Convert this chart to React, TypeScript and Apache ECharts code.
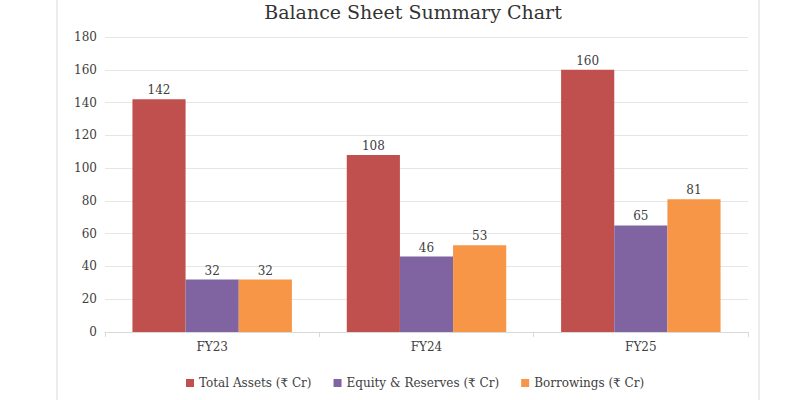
import React, { useEffect, useRef } from "react";
import * as echarts from "echarts";

const categories = ["FY23", "FY24", "FY25"];
const totalAssets = [142, 108, 160];
const equityReserves = [32, 46, 65];
const borrowings = [32, 53, 81];
const seriesNames = ["Total Assets (₹ Cr)", "Equity & Reserves (₹ Cr)", "Borrowings (₹ Cr)"];
const colors = ["#C0504D", "#8064A2", "#F79646"];
const FONT = "DejaVu Serif";

export default function App() {
  const ref = useRef<HTMLDivElement>(null);
  useEffect(() => {
    if (!ref.current) return;
    const chart = echarts.init(ref.current, undefined, { renderer: "svg" });
    const mk = (name: string, data: number[], color: string) => ({
      name,
      type: "bar",
      data,
      barGap: "0%",
      barCategoryGap: "25.6%",
      itemStyle: { color },
      label: {
        show: true,
        position: "top",
        distance: 3,
        color: "#404040",
        fontFamily: FONT,
        fontSize: 12,
      },
    });
    chart.setOption({
      animation: false,
      backgroundColor: "#ffffff",
      graphic: [
        {
          type: "rect",
          shape: { x: 57, y: -5, width: 702, height: 410 },
          style: { fill: "none", stroke: "#d9d9d9", lineWidth: 1 },
          silent: true,
        },
      ],
      title: {
        text: "Balance Sheet Summary Chart",
        left: 408,
        textAlign: "center",
        top: -3,
        textStyle: {
          fontFamily: FONT,
          fontSize: 19,
          fontWeight: "normal",
          color: "#333333",
        },
      },
      legend: {
        left: 181,
        top: 372,
        itemWidth: 8,
        itemHeight: 8,
        itemGap: 22,
        icon: "rect",
        textStyle: { fontFamily: FONT, fontSize: 12, color: "#404040" },
        data: seriesNames,
      },
      grid: { left: 105, right: 52, top: 37, bottom: 68 },
      xAxis: {
        type: "category",
        data: categories,
        axisLine: { lineStyle: { color: "#d9d9d9" } },
        axisTick: { show: true, length: 5, lineStyle: { color: "#d9d9d9" } },
        axisLabel: { color: "#404040", fontFamily: FONT, fontSize: 12, margin: 9 },
      },
      yAxis: {
        type: "value",
        min: 0,
        max: 180,
        interval: 20,
        axisLine: { show: false },
        axisTick: { show: false },
        splitLine: { lineStyle: { color: "#e6e6e6" } },
        axisLabel: { color: "#404040", fontFamily: FONT, fontSize: 12, margin: 8 },
      },
      series: [
        mk(seriesNames[0], totalAssets, colors[0]),
        mk(seriesNames[1], equityReserves, colors[1]),
        mk(seriesNames[2], borrowings, colors[2]),
      ],
    });
    return () => chart.dispose();
  }, []);
  return (
    <div
      ref={ref}
      style={{ position: "fixed", left: 0, top: 0, width: 800, height: 400 }}
    />
  );
}
